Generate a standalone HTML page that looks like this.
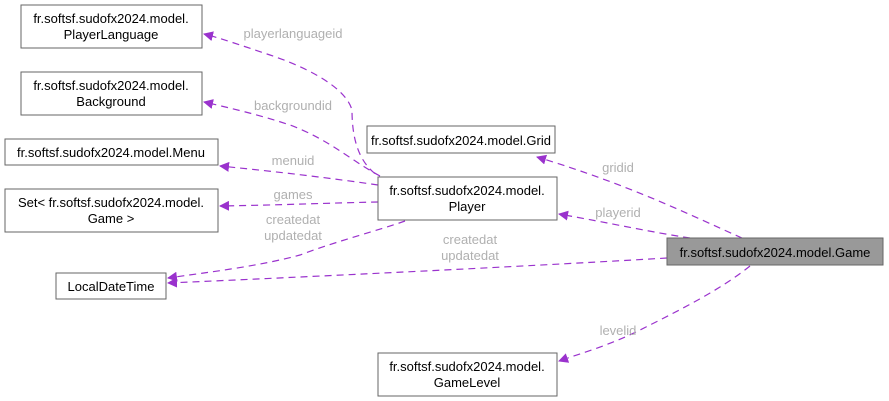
<!DOCTYPE html>
<html><head><meta charset="utf-8"><style>
html,body{margin:0;padding:0;background:#fff;}
svg{display:block;}
text{font-family:"Liberation Sans",sans-serif;font-size:13px;}
.n{fill:#000;text-anchor:middle;}
.l{fill:#b0b0b0;text-anchor:middle;}
.e{fill:none;stroke:#9a32cd;stroke-width:1.2;stroke-dasharray:7,5;}
.b{fill:#fff;stroke:#666;stroke-width:1;}
</style></head><body>
<svg width="889" height="401" viewBox="0 0 889 401">
<defs><marker id="a" viewBox="0 0 10 10" refX="9" refY="5" markerWidth="10" markerHeight="10" markerUnits="userSpaceOnUse" orient="auto-start-reverse"><path d="M0,0L10,5L0,10z" fill="#9a32cd"/></marker></defs>

<path class="e" marker-end="url(#a)" d="M385,180 C365,170 352,150 352,110 C345,85 300,65 270,55 C240,45 220,38 204,34"/>
<path class="e" marker-end="url(#a)" d="M380,176 C350,160 330,140 290,125 C260,115 230,108 204,102"/>
<path class="e" marker-end="url(#a)" d="M378,185 C330,178 280,172 220,166"/>
<path class="e" marker-end="url(#a)" d="M378,202 C330,203 280,205 220,206"/>
<path class="e" marker-end="url(#a)" d="M405,221 C380,230 340,240 300,255 C260,266 210,272 168,278"/>
<path class="e" marker-end="url(#a)" d="M667,258 C550,265 350,275 168,283"/>
<path class="e" marker-end="url(#a)" d="M742,238 C690,215 630,185 537,157"/>
<path class="e" marker-end="url(#a)" d="M690,238 C650,232 610,223 559,214"/>
<path class="e" marker-end="url(#a)" d="M750,266 C720,290 680,310 640,330 C610,345 585,352 559,361"/>

<rect class="b" x="21" y="5" width="181" height="43"/>
<text class="n" x="111" y="23">fr.softsf.sudofx2024.model.</text>
<text class="n" x="111" y="39">PlayerLanguage</text>

<rect class="b" x="21" y="72" width="181" height="43"/>
<text class="n" x="111" y="90">fr.softsf.sudofx2024.model.</text>
<text class="n" x="111" y="106">Background</text>

<rect class="b" x="5" y="139" width="213" height="26"/>
<text class="n" x="111" y="157">fr.softsf.sudofx2024.model.Menu</text>

<rect class="b" x="5" y="189" width="213" height="43"/>
<text class="n" x="111" y="207">Set&lt; fr.softsf.sudofx2024.model.</text>
<text class="n" x="111" y="223">Game &gt;</text>

<rect class="b" x="56" y="273" width="110" height="26"/>
<text class="n" x="111" y="291">LocalDateTime</text>

<rect class="b" x="367" y="126" width="188" height="27"/>
<text class="n" x="461" y="145">fr.softsf.sudofx2024.model.Grid</text>

<rect class="b" x="378" y="177" width="179" height="43"/>
<text class="n" x="467" y="195">fr.softsf.sudofx2024.model.</text>
<text class="n" x="467" y="211">Player</text>

<rect x="667" y="238" width="216" height="27" fill="#999" stroke="#666"/>
<text class="n" x="775" y="257">fr.softsf.sudofx2024.model.Game</text>

<rect class="b" x="378" y="353" width="179" height="43"/>
<text class="n" x="467" y="371">fr.softsf.sudofx2024.model.</text>
<text class="n" x="467" y="387">GameLevel</text>

<text class="l" x="293" y="38">playerlanguageid</text>
<text class="l" x="293" y="110">backgroundid</text>
<text class="l" x="293" y="165">menuid</text>
<text class="l" x="293" y="199">games</text>
<text class="l" x="293" y="224">createdat</text>
<text class="l" x="293" y="240">updatedat</text>
<text class="l" x="470" y="244">createdat</text>
<text class="l" x="470" y="260">updatedat</text>
<text class="l" x="618" y="172">gridid</text>
<text class="l" x="618" y="217">playerid</text>
<text class="l" x="618" y="335">levelid</text>
</svg>
</body></html>
